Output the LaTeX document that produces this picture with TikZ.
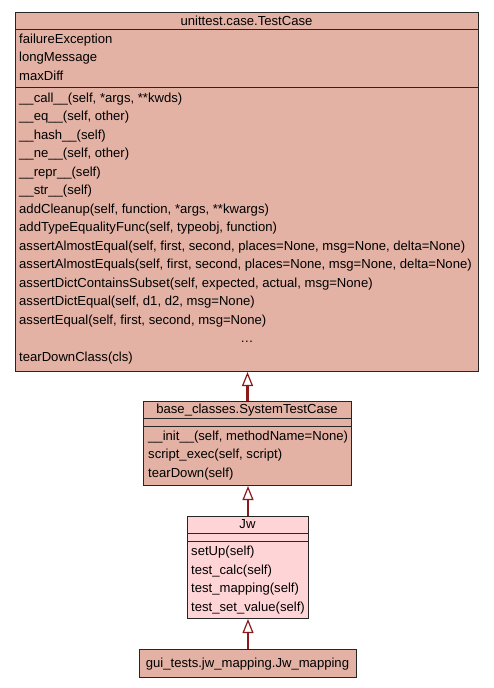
\documentclass[tikz,border=0pt]{standalone}
\usepackage{fontspec}
\setmainfont{Liberation Sans}
\usetikzlibrary{arrows.meta}
\definecolor{classfill}{HTML}{E3B2A4}
\definecolor{focusfill}{HTML}{FFD4D7}
\definecolor{edgered}{HTML}{8B1A1A}
\newcommand\umlfont{\fontsize{13.1}{18.5}\selectfont}
\tikzset{
  classbox/.style={draw=black!85,line width=1pt,fill=classfill,anchor=north west,inner sep=0pt},
  focusbox/.style={classbox,fill=focusfill},
  classtitle/.style={anchor=base,inner sep=0pt,font=\umlfont},
  classrows/.style={anchor=base west,align=left,inner sep=0pt,font=\umlfont},
  divider/.style={draw=black!85,line width=1pt},
  inherit/.style={-{Triangle[open,fill=white,length=14pt,width=11pt,line width=1.2pt]},line width=2.6pt,draw=edgered}
}

\begin{document}
\begin{tikzpicture}[x=1pt,y=-1pt]
    \useasboundingbox[fill=white] (0,0) rectangle (493,688);

    % unittest.case.TestCase (rows are placed by their last baseline)
    \node[classbox,minimum width=463pt,minimum height=359pt] (tc) at (15,12) {};
    \node[classtitle] (tctitle) at (246.5,25) {unittest.case.TestCase};
    \draw[divider] (tc.west |- 0,29) -- (tc.east |- 0,29);
    \node[classrows] (tcattr) at (19,80) {failureException\\longMessage\\maxDiff};
    \draw[divider] (tc.west |- 0,87) -- (tc.east |- 0,87);
    \node[classrows] (tcops) at (19,361) {\_\_call\_\_(self, *args, **kwds)\\
      \_\_eq\_\_(self, other)\\
      \_\_hash\_\_(self)\\
      \_\_ne\_\_(self, other)\\
      \_\_repr\_\_(self)\\
      \_\_str\_\_(self)\\
      addCleanup(self, function, *args, **kwargs)\\
      addTypeEqualityFunc(self, typeobj, function)\\
      assertAlmostEqual(self, first, second, places=None, msg=None, delta=None)\\
      assertAlmostEquals(self, first, second, places=None, msg=None, delta=None)\\
      assertDictContainsSubset(self, expected, actual, msg=None)\\
      assertDictEqual(self, d1, d2, msg=None)\\
      assertEqual(self, first, second, msg=None)\\
      \mbox{}\\
      tearDownClass(cls)};
    \node[classtitle] (tcmore) at (247,342) {\dots};

    % base_classes.SystemTestCase
    \node[classbox,minimum width=208pt,minimum height=84pt] (sys) at (143,401) {};
    \node[classtitle] (systitle) at (247,413) {base\_classes.SystemTestCase};
    \draw[divider] (sys.west |- 0,418) -- (sys.east |- 0,418);
    \draw[divider] (sys.west |- 0,426) -- (sys.east |- 0,426);
    \node[classrows] (sysops) at (148,477) {\_\_init\_\_(self, methodName=None)\\
      script\_exec(self, script)\\
      tearDown(self)};

    % Jw
    \node[focusbox,minimum width=121pt,minimum height=102pt] (jw) at (187,516) {};
    \node[classtitle] (jwtitle) at (247.5,528) {Jw};
    \draw[divider] (jw.west |- 0,533) -- (jw.east |- 0,533);
    \draw[divider] (jw.west |- 0,541) -- (jw.east |- 0,541);
    \node[classrows] (jwops) at (191,611) {setUp(self)\\
      test\_calc(self)\\
      test\_mapping(self)\\
      test\_set\_value(self)};

    % gui_tests.jw_mapping.Jw_mapping
    \node[classbox,minimum width=217pt,minimum height=28pt] (map) at (139,649) {};
    \node[classtitle] (maptitle) at (247.5,667) {gui\_tests.jw\_mapping.Jw\_mapping};

    \draw[inherit] (sys.north) -- (sys.north |- tc.south);
    \draw[inherit] (jw.north) -- (jw.north |- sys.south);
    \draw[inherit] (map.north) -- (map.north |- jw.south);
  \end{tikzpicture}
\end{document}
